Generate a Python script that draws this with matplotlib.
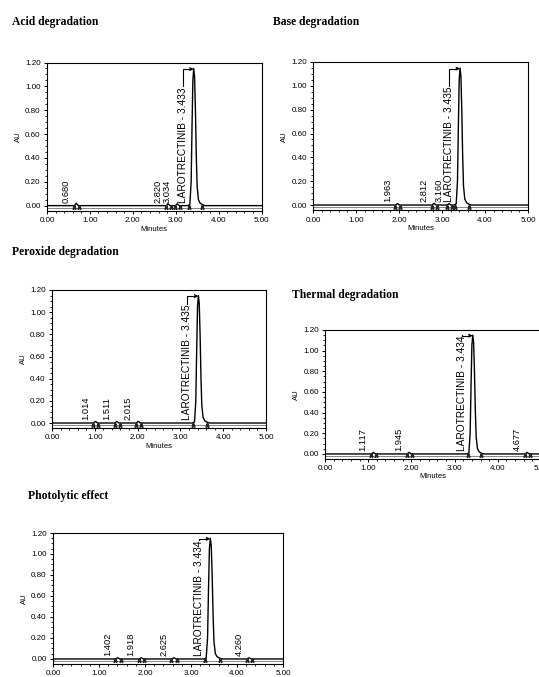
import matplotlib
matplotlib.use("Agg")
import matplotlib.pyplot as plt
from matplotlib.ticker import MultipleLocator, FormatStrFormatter

W, H = 539, 677

titles = ["Acid degradation", "Base degradation", "Peroxide degradation",
          "Thermal degradation", "Photolytic effect"]

# retention times of the small degradant peaks (min) and their heights (AU)
acid_rt = [0.680, 2.820, 3.034]
acid_h = [0.020, 0.015, 0.015]
base_rt = [1.963, 2.812, 3.160]
base_h = [0.012, 0.015, 0.012]
peroxide_rt = [1.014, 1.511, 2.015]
peroxide_h = [0.015, 0.015, 0.015]
thermal_rt = [1.117, 1.945, 4.677]
thermal_h = [0.015, 0.015, 0.015]
photo_rt = [1.402, 1.918, 2.625, 4.260]
photo_h = [0.012, 0.012, 0.012, 0.012]

# main larotrectinib peak
main_labels = ["LAROTRECTINIB - 3.433", "LAROTRECTINIB - 3.435", "LAROTRECTINIB - 3.435",
               "LAROTRECTINIB - 3.434", "LAROTRECTINIB - 3.434"]
peak_t = [3.28, 3.33, 3.36, 3.38, 3.40, 3.42, 3.44, 3.46, 3.48, 3.50, 3.53, 3.57, 3.62, 3.68]
peak_au = [0.0, 0.01, 0.20, 0.65, 1.05, 1.15, 1.08, 0.80, 0.42, 0.16, 0.05, 0.02, 0.008, 0.0]
peak_apex = 3.42

x_ticks = [0, 1, 2, 3, 4, 5]
y_ticks = [0.0, 0.2, 0.4, 0.6, 0.8, 1.0, 1.2]

# axes boxes in pixels: left, top, right, bottom
boxes = [(47, 62.5, 261.5, 211), (313, 62, 528, 210.4), (52, 290, 266, 428),
         (325, 330, 541, 458.6), (53, 533, 283, 663.7)]
title_pos = [(12, 25), (273, 25), (12, 255.5), (292, 298), (28, 499)]

minor_rts = [acid_rt, base_rt, peroxide_rt, thermal_rt, photo_rt]
minor_hs = [acid_h, base_h, peroxide_h, thermal_h, photo_h]

plt.rcParams['font.family'] = ['Liberation Sans', 'DejaVu Sans']

fig = plt.figure(figsize=(W / 100, H / 100), dpi=100)


def build_trace(rts, hs):
    t, y = [0.0], [0.0]
    for rt, h in zip(rts, hs):
        if rt < peak_t[0]:
            t += [rt - 0.04, rt, rt + 0.05]
            y += [0.0, h, 0.0]
    t += peak_t
    y += peak_au
    for rt, h in zip(rts, hs):
        if rt > peak_t[-1]:
            t += [rt - 0.04, rt, rt + 0.05]
            y += [0.0, h, 0.0]
    t.append(5.0)
    y.append(0.0)
    return t, y


axes = []
for i, (l, tp, r, b) in enumerate(boxes):
    ax = fig.add_axes([l / W, 1 - b / H, (r - l) / W, (b - tp) / H])
    axes.append(ax)
    t, y = build_trace(minor_rts[i], minor_hs[i])
    ax.axhline(-0.016, color='0.45', lw=0.6, zorder=1)
    ax.plot(t, y, color='black', lw=1.0, zorder=3)

    # integration marks
    marks = []
    for rt in minor_rts[i]:
        marks += [rt - 0.05, rt + 0.07]
    marks += [3.30, 3.62]
    ax.plot(marks, [-0.014] * len(marks), ls='none', marker=r'$\wedge$',
            ms=2.5, color='0.15', zorder=4)

    for rt in minor_rts[i]:
        ax.annotate(f"{rt:.3f}", xy=(rt, 0.012), xytext=(-4, 1),
                    textcoords='offset points', rotation=90, ha='right',
                    va='bottom', fontsize=6.7)

    ax.set_xlim(0, 5)
    ax.set_ylim(-0.045, 1.2)
    ax.set_xticks(x_ticks)
    ax.set_yticks(y_ticks)
    ax.xaxis.set_major_formatter(FormatStrFormatter('%.2f'))
    ax.yaxis.set_major_formatter(FormatStrFormatter('%.2f'))
    ax.xaxis.set_minor_locator(MultipleLocator(0.2))
    ax.yaxis.set_minor_locator(MultipleLocator(0.05))
    ax.tick_params(which='major', direction='out', length=2.5, width=0.7,
                   labelsize=5.8, pad=2)
    ax.tick_params(which='minor', direction='out', length=1.5, width=0.6)
    for s in ax.spines.values():
        s.set_linewidth(0.8)
    # the bottom panel's axis title falls outside the page in the reference
    if i < 4:
        ax.set_xlabel("Minutes", fontsize=5.5, labelpad=1)
    ax.set_ylabel("AU", fontsize=5.5, labelpad=2)

    tx, ty = title_pos[i]
    fig.text(tx / W, 1 - ty / H, titles[i], fontsize=8.4, fontweight='bold',
             family='Liberation Serif', ha='left', va='baseline')

# main peak labels with bracket arrows
renderer = fig.canvas.get_renderer()
for i, ax in enumerate(axes):
    txt = ax.annotate(main_labels[i], xy=(peak_apex, 0.012), xytext=(-8, 1),
                      textcoords='offset points', rotation=90, ha='center',
                      va='bottom', fontsize=7.3)
    bb = txt.get_window_extent(renderer)
    inv = ax.transData.inverted()
    (x0, y0), (x1, y1) = inv.transform([[bb.x0, bb.y0], [bb.x1, bb.y1]])
    xc = (x0 + x1) / 2
    ax.plot([xc, xc, peak_apex - 0.08], [y1 + 0.01, 1.145, 1.145],
            color='black', lw=0.8, zorder=4)
    ax.annotate("", xy=(peak_apex, 1.145), xytext=(peak_apex - 0.09, 1.145),
                arrowprops=dict(arrowstyle='->', lw=0.8, color='black',
                                shrinkA=0, shrinkB=0, mutation_scale=5))

fig.savefig("out.png", dpi=100)
